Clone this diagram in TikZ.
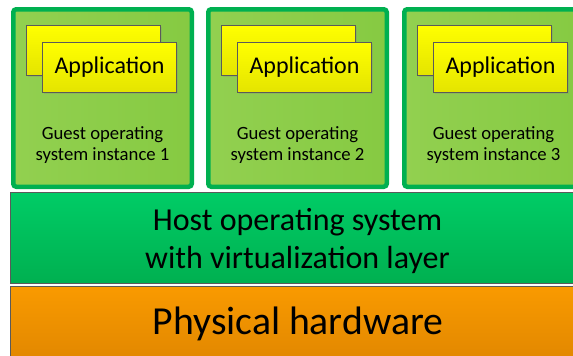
\documentclass[tikz,border=0pt]{standalone}
\usepackage{fontspec}
\setmainfont{Carlito}
\usetikzlibrary{shadows}
\definecolor{gborder}{HTML}{00B050}
\definecolor{gfill}{HTML}{92D050}
\definecolor{gfilldark}{HTML}{86CA42}
\definecolor{hosttop}{HTML}{00CC66}
\definecolor{hostbot}{HTML}{00B050}
\definecolor{hwtop}{HTML}{F99A00}
\definecolor{hwbot}{HTML}{E08600}
\definecolor{apptop}{HTML}{FFFF00}
\definecolor{appbot}{HTML}{E4E400}
\definecolor{edgegray}{HTML}{5A5A5A}
\tikzset{
  x=1pt,y=-1pt,
  guestbox/.style={draw=gborder, line width=4.5pt, rounded corners=3pt, left color=gfill, right color=gfilldark, minimum width=178.5pt, minimum height=177.5pt, anchor=north west, inner sep=0pt, outer sep=0pt},
  appbox/.style={draw=edgegray, line width=0.8pt, top color=apptop, bottom color=appbot, minimum width=134.2pt, minimum height=50.2pt, anchor=north west, inner sep=0pt, outer sep=0pt, font=\fontsize{24}{28}\selectfont,
    drop shadow={shadow xshift=1.5pt, shadow yshift=-1.5pt, opacity=0.25}},
  guesttext/.style={align=center, font=\fontsize{18.7}{21.5}\selectfont},
  layer/.style={draw=edgegray, line width=0.8pt, anchor=north west, inner sep=0pt, outer sep=0pt}
}
\begin{document}
\begin{tikzpicture}
\useasboundingbox (0,0) rectangle (573,356);
% guest boxes
\foreach \i/\dx in {1/0,2/195,3/391}{
  \node[guestbox] (g\i) at (13.25+\dx,9.25) {};
  \node[appbox] (ab\i) at (26.4+\dx,25.4) {};
  \node[appbox] (af\i) at (42.4+\dx,42.4) {Application};
  \node[guesttext] (gt\i) at (102.5+\dx,145) {Guest operating\\system instance \i};
}
% host layer
\node[layer, top color=hosttop, bottom color=hostbot, minimum width=580pt, minimum height=91pt] (host) at (10.4,192.4) {};
\node[align=center, font=\fontsize{32}{38}\selectfont] (hostt) at (297.5,241.5) {Host operating system\\with virtualization layer};
% hardware layer
\node[layer, top color=hwtop, bottom color=hwbot, minimum width=580pt, minimum height=80pt] (hw) at (10.4,286.4) {};
\node[font=\fontsize{39.7}{46}\selectfont] (hwt) at (298,323.5) {Physical hardware};
\end{tikzpicture}
\end{document}
